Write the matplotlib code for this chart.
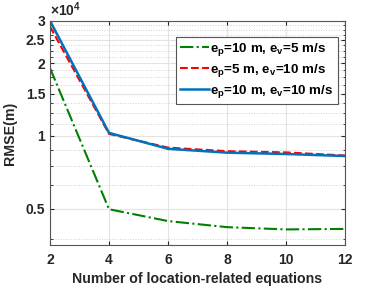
import matplotlib
matplotlib.use('Agg')
import matplotlib.pyplot as plt
from matplotlib.ticker import FixedLocator, NullFormatter
import numpy as np

# data (values in units of 1e4)
num_eq = [2, 4, 6, 8, 10, 12]
rmse_p10_v5 = [1.91, 0.497, 0.444, 0.419, 0.410, 0.412]
rmse_p5_v10 = [2.84, 1.02, 0.895, 0.865, 0.855, 0.830]
rmse_p10_v10 = [3.0, 1.03, 0.885, 0.853, 0.842, 0.826]

labels = [r'e$_\mathbf{p}$=10 m, e$_\mathbf{v}$=5 m/s',
          r'e$_\mathbf{p}$=5 m, e$_\mathbf{v}$=10 m/s',
          r'e$_\mathbf{p}$=10 m, e$_\mathbf{v}$=10 m/s']
yticks = [0.5, 1, 1.5, 2, 2.5, 3]
yticklabels = ['0.5', '1', '1.5', '2', '2.5', '3']


def main():
    plt.rcParams['font.family'] = 'Liberation Sans'
    plt.rcParams['font.weight'] = 'bold'
    plt.rcParams['mathtext.fontset'] = 'custom'
    plt.rcParams['mathtext.rm'] = 'Liberation Sans:bold'
    plt.rcParams['mathtext.bf'] = 'Liberation Sans:bold'
    plt.rcParams['mathtext.it'] = 'Liberation Sans:bold'
    dark = '#262626'

    fig = plt.figure(figsize=(3.82, 2.86), dpi=100)
    ax = fig.add_axes([0.131, 0.143, 0.772, 0.784])

    ax.plot(num_eq, rmse_p10_v5, color='#008000', linestyle='-.', linewidth=1.5, label=labels[0])
    ax.plot(num_eq, rmse_p5_v10, color='#FF0000', linestyle='--', linewidth=1.5, label=labels[1])
    ax.plot(num_eq, rmse_p10_v10, color='#0072BD', linestyle='-', linewidth=1.8, label=labels[2])

    ax.set_yscale('log')
    ax.set_xlim(2, 12)
    ax.set_ylim(0.353, 3.0)
    ax.set_xticks([2, 4, 6, 8, 10, 12])
    ax.yaxis.set_major_locator(FixedLocator(yticks))
    ax.set_yticklabels(yticklabels)
    minor = [v for v in np.arange(0.375, 3.0, 0.125) if not np.isclose(v % 0.5, 0)]
    ax.yaxis.set_minor_locator(FixedLocator(minor))
    ax.yaxis.set_minor_formatter(NullFormatter())

    ax.grid(which='major', color='#e3e3e3', linestyle='-', linewidth=0.8)
    ax.grid(which='minor', axis='y', color='#d0d0d0', linestyle=':', linewidth=0.7)
    ax.set_axisbelow(True)

    ax.tick_params(which='both', direction='in', top=True, right=True,
                   colors=dark, labelsize=10, length=3)
    ax.tick_params(axis='x', pad=6)
    ax.tick_params(which='minor', length=1.8)
    for sp in ax.spines.values():
        sp.set_color('#555555')
        sp.set_linewidth(0.8)

    ax.set_xlabel('Number of location-related equations', fontsize=10.2, fontweight='bold', color=dark, labelpad=3)
    ax.set_ylabel('RMSE(m)', fontsize=10.2, fontweight='bold', color=dark, labelpad=6)
    ax.text(0.0, 1.01, r'$\times10^4$', transform=ax.transAxes, fontsize=10,
            color=dark, ha='left', va='bottom')

    leg = ax.legend(loc='upper right', bbox_to_anchor=(0.975, 0.93), fontsize=9.6,
                    handlelength=2.2, handletextpad=0.1, borderpad=0.3,
                    labelspacing=0.32, borderaxespad=0, fancybox=False, framealpha=1)
    leg.get_frame().set_edgecolor('#555555')
    leg.get_frame().set_linewidth(0.8)

    fig.savefig('out.png', dpi=100)


if __name__ == "__main__":
    main()
